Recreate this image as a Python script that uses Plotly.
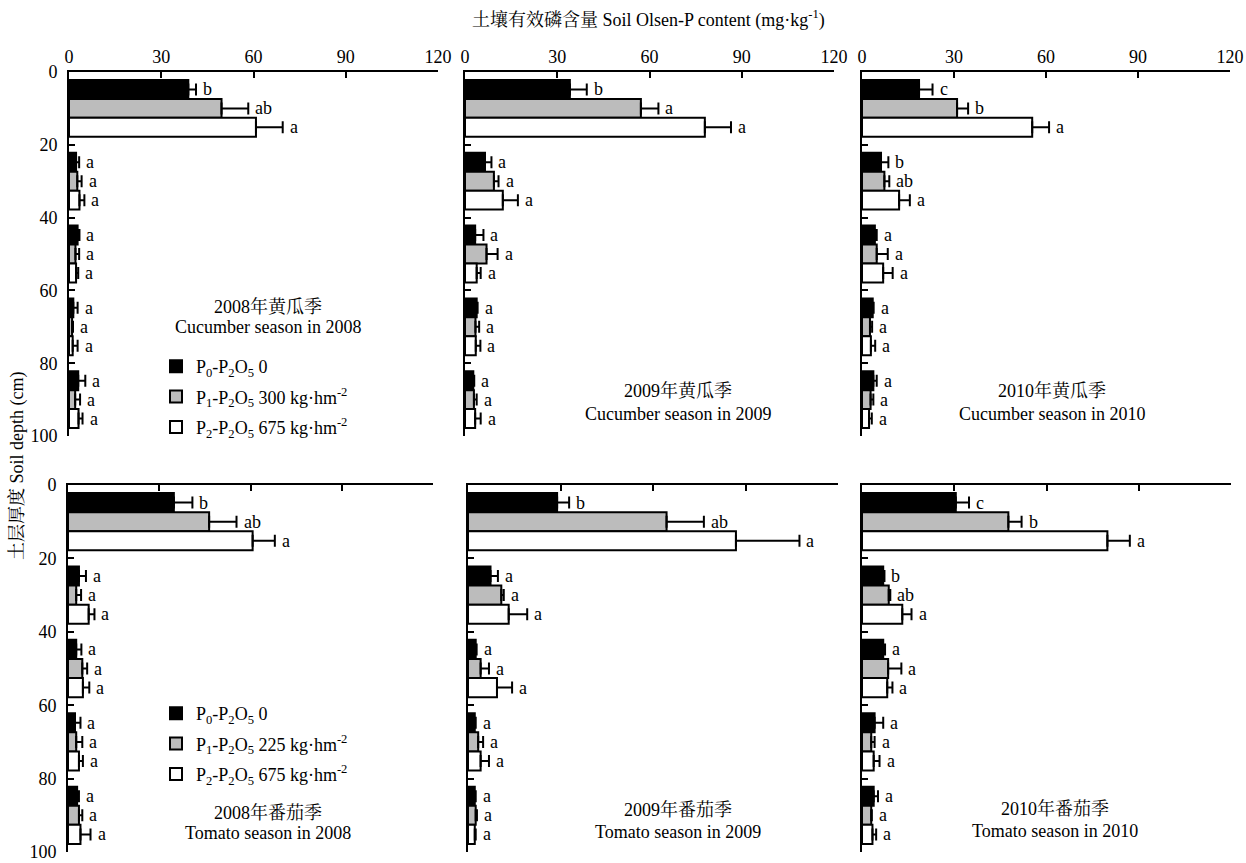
import plotly.graph_objects as go
from plotly.subplots import make_subplots

# ---------------- data ----------------
depth_mid = [10, 30, 50, 70, 90]          # centre of 0-20, 20-40, ... 80-100 cm layers
depth_ticks = [0, 20, 40, 60, 80, 100]
p_ticks = [0, 30, 60, 90, 120]

top_names = ["P<sub>0</sub>-P<sub>2</sub>O<sub>5</sub> 0",
             "P<sub>1</sub>-P<sub>2</sub>O<sub>5</sub> 300 kg·hm<sup>-2</sup>",
             "P<sub>2</sub>-P<sub>2</sub>O<sub>5</sub> 675 kg·hm<sup>-2</sup>"]
bottom_names = ["P<sub>0</sub>-P<sub>2</sub>O<sub>5</sub> 0",
                "P<sub>1</sub>-P<sub>2</sub>O<sub>5</sub> 225 kg·hm<sup>-2</sup>",
                "P<sub>2</sub>-P<sub>2</sub>O<sub>5</sub> 675 kg·hm<sup>-2</sup>"]

# 2008 cucumber
c08_p0 = [38.8, 2.3, 2.8, 1.4, 3.0]
c08_p0_se = [2.5, 1.0, 0.6, 1.4, 2.3]
c08_p0_sig = ["b", "a", "a", "a", "a"]
c08_p1 = [49.6, 2.7, 2.1, 1.0, 2.0]
c08_p1_se = [8.7, 1.4, 1.2, 0.3, 1.6]
c08_p1_sig = ["ab", "a", "a", "a", "a"]
c08_p2 = [60.8, 3.4, 2.3, 1.2, 3.1]
c08_p2_se = [8.7, 1.6, 0.7, 1.6, 1.3]
c08_p2_sig = ["a", "a", "a", "a", "a"]

# 2009 cucumber
c09_p0 = [34.1, 6.5, 3.3, 3.8, 2.7]
c09_p0_se = [5.5, 2.1, 2.7, 0.3, 0.3]
c09_p0_sig = ["b", "a", "a", "a", "a"]
c09_p1 = [57.2, 9.4, 7.0, 3.4, 2.9]
c09_p1_se = [5.7, 1.5, 3.6, 1.2, 0.9]
c09_p1_sig = ["a", "a", "a", "a", "a"]
c09_p2 = [78.0, 12.3, 3.8, 3.5, 3.3]
c09_p2_se = [8.5, 4.9, 1.3, 1.5, 1.8]
c09_p2_sig = ["a", "a", "a", "a", "a"]

# 2010 cucumber
c10_p0 = [18.6, 6.2, 4.2, 3.5, 3.7]
c10_p0_se = [4.4, 2.4, 0.6, 0.3, 1.1]
c10_p0_sig = ["c", "b", "a", "a", "a"]
c10_p1 = [31.0, 7.3, 4.8, 2.6, 2.8]
c10_p1_se = [3.6, 1.6, 3.6, 0.7, 0.9]
c10_p1_sig = ["b", "ab", "a", "a", "a"]
c10_p2 = [55.5, 12.1, 6.9, 2.9, 2.3]
c10_p2_se = [5.5, 3.5, 3.1, 1.4, 0.9]
c10_p2_sig = ["a", "a", "a", "a", "a"]

# 2008 tomato
t08_p0 = [34.8, 3.6, 2.7, 2.3, 3.0]
t08_p0_se = [6.1, 2.3, 1.7, 1.8, 0.6]
t08_p0_sig = ["b", "a", "a", "a", "a"]
t08_p1 = [46.4, 2.7, 4.7, 2.7, 3.6]
t08_p1_se = [9.0, 1.6, 1.6, 2.0, 1.1]
t08_p1_sig = ["ab", "a", "a", "a", "a"]
t08_p2 = [60.7, 6.8, 4.9, 3.6, 4.1]
t08_p2_se = [7.3, 1.9, 2.1, 1.3, 3.3]
t08_p2_sig = ["a", "a", "a", "a", "a"]

# 2009 tomato
t09_p0 = [28.9, 7.3, 2.5, 2.2, 2.2]
t09_p0_se = [3.9, 2.4, 0.3, 0.3, 0.3]
t09_p0_sig = ["b", "a", "a", "a", "a"]
t09_p1 = [64.4, 10.8, 4.1, 3.3, 2.5]
t09_p1_se = [12.1, 0.8, 2.7, 1.6, 0.4]
t09_p1_sig = ["ab", "a", "a", "a", "a"]
t09_p2 = [86.9, 13.2, 9.4, 4.1, 2.2]
t09_p2_se = [20.6, 6.0, 4.9, 2.7, 0.3]
t09_p2_sig = ["a", "a", "a", "a", "a"]

# 2010 tomato
t10_p0 = [30.5, 6.9, 6.9, 4.1, 3.8]
t10_p0_se = [4.3, 0.4, 0.6, 2.8, 1.4]
t10_p0_sig = ["c", "b", "a", "a", "a"]
t10_p1 = [47.6, 8.7, 8.5, 3.0, 3.0]
t10_p1_se = [4.3, 0.5, 4.3, 1.1, 0.2]
t10_p1_sig = ["b", "ab", "a", "a", "a"]
t10_p2 = [79.8, 13.1, 8.2, 3.8, 3.4]
t10_p2_se = [7.3, 3.0, 1.7, 1.9, 1.2]
t10_p2_sig = ["a", "a", "a", "a", "a"]

season_cn = [["2008年黄瓜季", "2009年黄瓜季", "2010年黄瓜季"],
             ["2008年番茄季", "2009年番茄季", "2010年番茄季"]]
season_en = [["Cucumber season in 2008", "Cucumber season in 2009", "Cucumber season in 2010"],
             ["Tomato season in 2008", "Tomato season in 2009", "Tomato season in 2010"]]

panels = {
    (1, 1): [(c08_p0, c08_p0_se, c08_p0_sig), (c08_p1, c08_p1_se, c08_p1_sig), (c08_p2, c08_p2_se, c08_p2_sig)],
    (1, 2): [(c09_p0, c09_p0_se, c09_p0_sig), (c09_p1, c09_p1_se, c09_p1_sig), (c09_p2, c09_p2_se, c09_p2_sig)],
    (1, 3): [(c10_p0, c10_p0_se, c10_p0_sig), (c10_p1, c10_p1_se, c10_p1_sig), (c10_p2, c10_p2_se, c10_p2_sig)],
    (2, 1): [(t08_p0, t08_p0_se, t08_p0_sig), (t08_p1, t08_p1_se, t08_p1_sig), (t08_p2, t08_p2_se, t08_p2_sig)],
    (2, 2): [(t09_p0, t09_p0_se, t09_p0_sig), (t09_p1, t09_p1_se, t09_p1_sig), (t09_p2, t09_p2_se, t09_p2_sig)],
    (2, 3): [(t10_p0, t10_p0_se, t10_p0_sig), (t10_p1, t10_p1_se, t10_p1_sig), (t10_p2, t10_p2_se, t10_p2_sig)],
}

# ---------------- styling ----------------
W, H = 1246, 863
FONT = "Liberation Serif, Times New Roman, Noto Serif CJK SC, Noto Sans CJK SC, serif"
FS = 18
fills = ["#000000", "#bcbcbc", "#ffffff"]
BARGAP = 0.22
bar_w = 20 * (1 - BARGAP) / 3


def fx(p):        # window pixel -> paper x
    return p / W


def fy(p):        # window pixel -> paper y
    return 1 - p / H


x_dom = {(1, 1): (69, 438), (1, 2): (465, 834), (1, 3): (862, 1230),
         (2, 1): (68, 433), (2, 2): (468, 838), (2, 3): (862, 1231)}
y_dom = {1: (72, 436), 2: (485, 852)}

fig = make_subplots(rows=2, cols=3)

for (r, c), series in panels.items():
    names = top_names if r == 1 else bottom_names
    for i, (vals, se, sig) in enumerate(series):
        fig.add_trace(go.Bar(
            x=vals, y=depth_mid, orientation="h", name=names[i],
            marker=dict(color=fills[i], line=dict(color="black", width=2)),
            error_x=dict(type="data", array=se, arrayminus=[0] * len(se), symmetric=False,
                         color="black", thickness=2, width=6),
            showlegend=(c == 1), legend="legend" if r == 1 else "legend2",
            legendgroup=f"g{r}{i}",
        ), row=r, col=c)
        for k in range(len(vals)):
            fig.add_annotation(x=vals[k] + se[k], y=depth_mid[k] + (i - 1) * bar_w,
                               text=sig[k], showarrow=False, xanchor="left", yanchor="middle",
                               xshift=5, font=dict(family=FONT, size=FS, color="black"),
                               row=r, col=c)

# axes
for (r, c) in panels:
    idx = (r - 1) * 3 + c
    xa = "xaxis" if idx == 1 else f"xaxis{idx}"
    ya = "yaxis" if idx == 1 else f"yaxis{idx}"
    x0, x1 = x_dom[(r, c)]
    y0, y1 = y_dom[r]
    fig.layout[xa].update(
        domain=[fx(x0), fx(x1)], range=[0, 120], side="top", automargin=False,
        tickmode="array", tickvals=p_ticks, ticks="inside", ticklen=6, tickwidth=2,
        tickcolor="black", showline=True, linewidth=2, linecolor="black",
        showgrid=False, zeroline=False, showticklabels=(r == 1),
        tickfont=dict(family=FONT, size=FS, color="black"),
    )
    fig.layout[ya].update(
        domain=[fy(y1), fy(y0)], range=[100, 0], automargin=False,
        tickmode="array", tickvals=depth_ticks, ticks="inside", ticklen=6, tickwidth=2,
        tickcolor="black", showline=True, linewidth=2, linecolor="black",
        showgrid=False, zeroline=False, showticklabels=(c == 1), ticklabelstandoff=6,
        tickfont=dict(family=FONT, size=FS, color="black"),
    )

# season labels
season_pos = {(1, 1): (268, 307, 327), (1, 2): (678, 391, 414), (1, 3): (1052, 391, 414),
              (2, 1): (268, 812, 833), (2, 2): (678, 809, 832), (2, 3): (1055, 808, 831)}
for (r, c), (cx, y1, y2) in season_pos.items():
    fig.add_annotation(x=fx(cx), y=fy(y1), xref="paper", yref="paper",
                       text=season_cn[r - 1][c - 1], showarrow=False,
                       xanchor="center", yanchor="middle",
                       font=dict(family=FONT, size=FS, color="black"))
    fig.add_annotation(x=fx(cx), y=fy(y2), xref="paper", yref="paper",
                       text=season_en[r - 1][c - 1], showarrow=False,
                       xanchor="center", yanchor="middle",
                       font=dict(family=FONT, size=FS, color="black"))

# axis titles
fig.add_annotation(x=fx(648), y=fy(19), xref="paper", yref="paper",
                   text="土壤有效磷含量 Soil Olsen-P content (mg·kg<sup>-1</sup>)",
                   showarrow=False, xanchor="center", yanchor="middle",
                   font=dict(family=FONT, size=FS, color="black"))
fig.add_annotation(x=fx(17), y=fy(466), xref="paper", yref="paper",
                   text="土层厚度 Soil depth (cm)", textangle=-90,
                   showarrow=False, xanchor="center", yanchor="middle",
                   font=dict(family=FONT, size=FS, color="black"))

legend_style = dict(font=dict(family=FONT, size=FS, color="black"), bgcolor="rgba(0,0,0,0)",
                    borderwidth=0, xanchor="left", yanchor="top", tracegroupgap=4,
                    traceorder="grouped")
fig.update_layout(
    width=W, height=H, autosize=False,
    margin=dict(l=0, r=0, t=0, b=0, autoexpand=False),
    paper_bgcolor="white", plot_bgcolor="white",
    barmode="group", bargap=BARGAP, bargroupgap=0,
    legend=dict(x=fx(156), y=fy(348), **legend_style),
    legend2=dict(x=fx(156), y=fy(695), **legend_style),
)

fig.write_html("out.html", config={"displayModeBar": False},
               post_script="document.body.style.margin='0';"
                           "document.documentElement.style.overflow='hidden';")
